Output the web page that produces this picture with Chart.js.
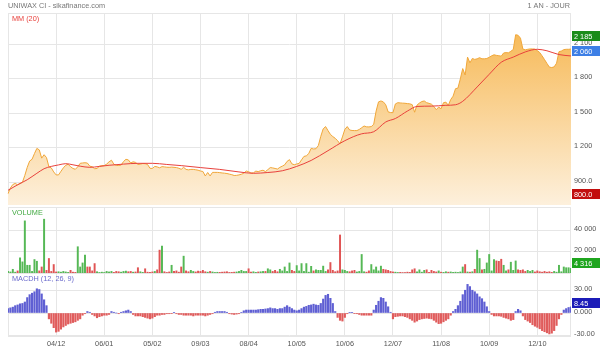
<!DOCTYPE html>
<html><head><meta charset="utf-8">
<script src="https://cdn.jsdelivr.net/npm/chart.js@4/dist/chart.umd.min.js"></script>
<style>
html,body{margin:0;padding:0;background:#fff;}
#wrap{position:relative;width:600px;height:351px;overflow:hidden;background:#fff;}
canvas{position:absolute;left:0;}
</style></head><body>
<div id="wrap">
<canvas id="cPrice" style="top:0px" width="600" height="207"></canvas>
<canvas id="cVol" style="top:207px" width="600" height="66"></canvas>
<canvas id="cMacd" style="top:273px" width="600" height="78"></canvas>
</div>
<script>
// ---------- DATA ----------
const tickLabels = ['04/12','06/01','05/02','09/03','08/04','10/05','10/06','12/07','11/08','10/09','12/10'];
const tickStep = 20;

const price = [
 800, 850, 880, 890, 878, 890, 900, 960,1030,1085,
1100,1150,1195,1182,1110,1140,1115,1035,1025, 990,
 964, 964, 995,1025,1048,1057,1035,1020,1013,1035,
1065,1068,1070,1067,1040,1035,1018,1020,1040,1045,
1045,1058,1078,1092,1057,1047,1046,1050,1080,1100,
1095,1068,1078,1073,1055,1058,1063,1062,1055,1022,
1020,1038,1034,1026,1036,1034,1031,1030,1032,1030,
1028,1022,1013,1030,1012,1008,1012,1012,1009,1005,
 998, 994, 955, 985, 955, 986, 986, 986, 984, 981,
 979, 976, 971, 966, 959, 960, 964, 970, 978, 998,
 992, 980, 982, 997, 993,1000,1005, 993,1010,1028,
1025,1020,1015,1030,1040,1052,1082,1097,1060,1053,
1059,1064,1095,1125,1130,1150,1195,1190,1192,1220,
1300,1365,1385,1350,1317,1298,1283,1262,1235,1295,
1360,1385,1355,1351,1350,1350,1360,1375,1390,1383,
1382,1385,1405,1520,1600,1608,1600,1575,1513,1507,
1506,1582,1593,1591,1589,1588,1585,1583,1576,1510,
1572,1590,1603,1608,1593,1587,1580,1560,1532,1555,
1540,1593,1598,1570,1620,1650,1715,1720,1800,1890,
1834,1990,1940,1978,1970,1975,1985,1975,1975,1978,
1988,2001,2010,2005,2002,1998,2026,2029,2027,2041,
2056,2185,2180,2155,2060,2053,2058,2061,2061,2060,
2046,2030,2000,1968,1935,1903,1899,1905,1937,2037,
2043,2055,2058,2058,2060
];

const maIndex  = [0,4,8,12,15,18,21,24,27,30,34,38,42,48,54,60,66,72,80,88,96,102,108,114,120,126,133,140,147,152,157,161,166,170,176,182,186,189,195,200,205,210,215,220,224,229,234];
const maValues = [830,878,922,978,1018,1038,1051,1062,1052,1040,1030,1038,1048,1058,1065,1065,1055,1045,1028,1012,990,978,985,1000,1038,1090,1175,1262,1322,1340,1425,1455,1520,1560,1563,1570,1575,1605,1730,1840,1945,1990,2035,2058,2045,2012,2000];

const volume = [
 1500, 1000, 3500,  800, 2000,14300,10500,49200, 7300, 7300,
 1500,12700,11100, 2000, 5700,50800, 2500,13700, 1500, 8000,
 1000, 1200,  800, 1500, 1000,  600, 2500,  800,  600,24800,
 5700, 9500,16800, 5700, 5700, 2000, 8900, 1200,  500,  800,
  500, 1500, 1000, 1500,  600, 1500, 1200,  800, 1500, 1800,
 1200, 1500,  800, 1000, 5000, 1200,  600, 4000,  800,  600,
 1000, 1500, 3000,21600,25400, 1200,  500, 1000, 7300, 1500,
 2000,  800, 5700,15900, 2000, 1200, 2500, 1500, 1000, 1800,
 1500, 2500, 1200,  800, 1500, 1000,  500,  700,  600,  800,
 1000, 1200,  500,  600,  800, 1000, 1500, 2500, 1500, 1500,
 4000,  800, 1200,  600, 1000, 1200, 1500, 1500, 4000, 3000,
 1500, 2500, 1200, 3500, 2000, 5700, 1500, 9500, 2500, 1500,
 7000, 2000, 8900, 1500, 8900,  800, 6300, 2000, 3000, 2500,
 2500, 6500, 1500, 3000, 9900, 2500, 1200, 2000,35900, 3000,
 2500, 1500, 1200, 2000, 2500, 1000, 1500,17500, 1200,  800,
 2000, 8000, 3000, 5700, 2000, 6500, 3500, 3000, 2500, 1500,
 1000,  800,  500,  600,  400,  500,  800,  600, 3000, 4000,
 1000, 3000,  800, 2500, 3000,  600, 2500, 1500, 1000, 2000,
  800,  600, 1200,  800, 1000,  600,  800,  500, 1000, 5700,
 8000, 1000,  800, 1200, 3500,21600,13700, 3000, 3500, 9500,
17500, 2000,12700,11400,11000,13000, 7300, 2000, 3000,10200,
 2500,11400, 3000, 2500, 3000, 1500, 2500, 1500, 2500, 1000,
 2000, 1200,  800, 1500,  800, 1200,  600, 1500,  800, 7300,
 1200, 5700, 5000, 5000, 4316
];

const macdh = [
  6,  7,  8, 10, 11, 12.5, 13, 15, 21, 25,
 27, 29, 33, 32, 26, 18, 10, -8,-14,-20,
-26,-25,-22,-19,-17,-15,-14,-13,-12,-10,
 -8, -3, -1,  2,  1, -2, -4,-6.5,-5, -4,
 -3, -3, -2,  2,  1,  0, -1,  1,  2,  3,
  4,  2, -2, -4, -4, -4, -5, -6, -7, -8,
 -7, -5, -3, -3, -2, -2, -1, -1,-0.5,0.5,
 -1, -2, -2, -3, -3, -3, -3, -4, -3, -3,
 -3, -3, -4, -3, -2, -1,  1,  2,  2,  2,
  2,  1, -1,-1.5,-2,-1.5,-1, 0.5, 3,  4,
  4,  4,  4,  4, 4.5, 5,  5, 5.5, 6,  7,
  6,  6,  5,  6,  6,  8, 10,  8,  6,  4,
  3,  4,  6,  8,  9,10.5,11, 12, 11,10.5,
 13, 19, 24,25.5,20, 13,  2, -6,-10,-11,
 -6, -1,0.5,0.5,-0.5,-1,-2, -3, -3, -3,
 -3, -3,  4,10.5,16, 21, 20, 15, 8.5, 1,
 -8, -5,-4.5,-4,-4, -5, -6, -8,-10,-12.5,
-11, -9, -8,-7.5,-7,-7.5,-8,-10,-12.5,-14.5,
-14,-12,-10, -8, -3,  2,  5, 10, 16, 25,
 31, 39, 36, 31, 29, 26, 22,19.5,15, 8.5,
  2, -2, -4, -4, -4,-4.5,-6,-7, -8,-10,
 -9,  2,  5,  3, -4, -9,-11,-13,-16,-18,
-19.5,-21.5,-24,-25.5,-27,-28.5,-27.5,-24,-17,-8,
 -2,  4,  6, 7.5, 8.45
];

const priceTicks = [900,1200,1500,1800,2100];
const priceTickLabels = ['900.0','1 200','1 500','1 800','2 100'];
const volumeTicks = [20000,40000];
const volumeTickLabels = ['20 000','40 000'];
const macdTicks = [-30,0,30];
const macdTickLabels = ['-30.00','0.000','30.00'];

const priceBadgeValues = [2185, 2060, 800];
const priceBadgeLabels = ['2 185','2 060','800.0'];
const volumeBadgeValue = 4316, volumeBadgeLabel = '4 316';
const macdBadgeValue = 8.45, macdBadgeLabel = '8.45';

// ---------- STYLE / HELPERS ----------
const GRID = '#e6e6e6';
const FAMILY = "'Liberation Sans', Arial, sans-serif";
const FS = 7.3;
const FONT = {family: FAMILY, size: FS};
const labels = price.map((_, i) => i);
const maData = price.map(() => null);
maIndex.forEach((ix, k) => { maData[ix] = maValues[k]; });
const GREEN = '#55b855', RED = '#e05454';
const volColors = volume.map((_, i) => (i === 0 || price[i] >= price[i-1]) ? GREEN : RED);
const macdColors = macdh.map(v => v >= 0 ? '#5f5fd3' : '#e05c5c');

function xScale(showLabels) {
  return {
    type: 'category', offset: false,
    grid: { offset: false, drawTicks: false, color: c => (c.index % tickStep === 0) ? GRID : 'rgba(0,0,0,0)' },
    border: { display: false },
    ticks: showLabels ? {
      autoSkip: false, maxRotation: 0, minRotation: 0, padding: 3, color: '#555', font: FONT,
      callback: (v, i) => (i % tickStep === 0 && i > 0 && tickLabels[i / tickStep - 1]) ? tickLabels[i / tickStep - 1] : ''
    } : { display: false },
    afterFit: s => { s.height = showLabels ? 14 : 0; s.paddingLeft = 0; s.paddingRight = 0; }
  };
}
function yScale(min, max, ticks, tlabels, z) {
  return {
    position: 'right', min, max, z: z || 0,
    afterBuildTicks: s => { s.ticks = ticks.map(v => ({value: v})); },
    ticks: { color: '#555', font: FONT, padding: 3, labelOffset: -1.5, callback: (v, i) => tlabels[i] },
    grid: { color: GRID, drawTicks: false },
    border: { display: false },
    afterFit: s => { s.width = 29; s.paddingTop = 0; s.paddingBottom = 0; }
  };
}
function badge(chart, y, text, color) {
  const ctx = chart.ctx, a = chart.chartArea, h = 10;
  ctx.save();
  ctx.fillStyle = color;
  const top = Math.round(y - h / 2);
  ctx.fillRect(a.right + 1, top, chart.width - a.right - 1, h);
  ctx.fillStyle = '#fff';
  ctx.font = FS + 'px ' + FAMILY;
  ctx.textAlign = 'left'; ctx.textBaseline = 'middle';
  ctx.fillText(text, a.right + 3, top + h / 2 + 0.5);
  ctx.restore();
}
function panelPlugin(title, titleColor, extra) {
  return {
    id: 'panel',
    beforeDatasetsDraw(chart) {
      const ctx = chart.ctx, a = chart.chartArea;
      ctx.save(); ctx.strokeStyle = GRID; ctx.lineWidth = 1;
      ctx.strokeRect(Math.round(a.left) + 0.5, Math.round(a.top) + 0.5, Math.round(a.right - a.left) - 1, Math.round(a.bottom - a.top) - 1);
      ctx.restore();
    },
    afterDraw(chart) {
      const ctx = chart.ctx, a = chart.chartArea;
      ctx.save();
      ctx.font = FS + 'px ' + FAMILY; ctx.fillStyle = titleColor;
      ctx.textAlign = 'left'; ctx.textBaseline = 'alphabetic';
      ctx.fillText(title, a.left + 4, a.top + 7.5);
      ctx.restore();
      if (extra) extra(chart);
    }
  };
}
const common = {
  responsive: false, animation: false, events: [],
  plugins: { legend: { display: false }, tooltip: { enabled: false } }
};

// ---------- PRICE ----------
new Chart(document.getElementById('cPrice'), {
  type: 'line',
  data: { labels, datasets: [
    { data: maData, spanGaps: true, borderColor: '#e8413c', borderWidth: 1, pointRadius: 0, cubicInterpolationMode: 'monotone', fill: false, order: 0 },
    { data: price, borderColor: '#f0a73a', borderWidth: 1, pointRadius: 0, tension: 0, fill: 'start', order: 1,
      backgroundColor: c => {
        const a = c.chart.chartArea; if (!a) return '#fbd89a';
        const g = c.chart.ctx.createLinearGradient(0, a.top, 0, a.bottom);
        g.addColorStop(0, '#f6b44a'); g.addColorStop(1, '#fdf0dc'); return g;
      } }
  ]},
  options: Object.assign({}, common, {
    layout: { padding: { top: 13, left: 8, right: 0, bottom: 2 } },
    scales: { x: Object.assign(xScale(false), { z: 1 }), y: yScale(702, 2374, priceTicks, priceTickLabels, 1) }
  }),
  plugins: [panelPlugin('MM (20)', '#e8413c', chart => {
    const ctx = chart.ctx;
    ctx.save(); ctx.font = FS + 'px ' + FAMILY; ctx.fillStyle = '#777'; ctx.textBaseline = 'alphabetic';
    ctx.textAlign = 'left'; ctx.fillText('UNIWAX CI - sikafinance.com', 8, 7.5);
    ctx.textAlign = 'right'; ctx.fillText('1 AN - JOUR', 570, 7.5);
    ctx.restore();
    const y = chart.scales.y, cols = ['#1a8c1a', '#3d7fe6', '#c20e0e'];
    priceBadgeValues.forEach((v, k) => badge(chart, y.getPixelForValue(v) + (k < 2 ? 1.5 : 0), priceBadgeLabels[k], cols[k]));
  })]
});

// ---------- VOLUME ----------
new Chart(document.getElementById('cVol'), {
  type: 'bar',
  data: { labels, datasets: [{ data: volume, backgroundColor: volColors, barThickness: 1.3 }] },
  options: Object.assign({}, common, {
    layout: { padding: { top: 0, left: 8, right: 0, bottom: 0 } },
    scales: { x: xScale(false), y: yScale(0, 62300, volumeTicks, volumeTickLabels) }
  }),
  plugins: [panelPlugin('VOLUME', '#44aa44', chart => {
    badge(chart, chart.scales.y.getPixelForValue(volumeBadgeValue) - 5, volumeBadgeLabel, '#1ea51e');
  })]
});

// ---------- MACDH ----------
new Chart(document.getElementById('cMacd'), {
  type: 'bar',
  data: { labels, datasets: [{ data: macdh, backgroundColor: macdColors, barThickness: 1.5 }] },
  options: Object.assign({}, common, {
    layout: { padding: { top: 0, left: 8, right: 0, bottom: 0 } },
    scales: { x: xScale(true), y: yScale(-32.7, 54.5, macdTicks, macdTickLabels) }
  }),
  plugins: [panelPlugin('MACDH (12, 26, 9)', '#6a6acc', chart => {
    badge(chart, chart.scales.y.getPixelForValue(macdBadgeValue) - 4, macdBadgeLabel, '#1c1cb8');
  })]
});
</script>
</body></html>
